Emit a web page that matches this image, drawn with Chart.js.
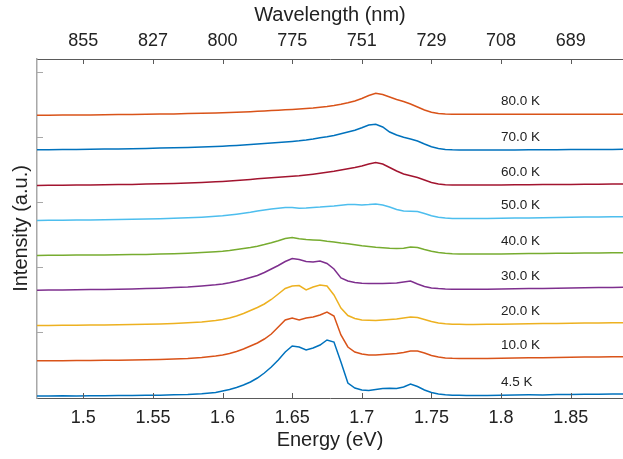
<!DOCTYPE html>
<html>
<head>
<meta charset="utf-8">
<script src="https://cdn.jsdelivr.net/npm/chart.js@4.4.1/dist/chart.umd.min.js"></script>
<style>
  html, body { margin: 0; padding: 0; background: #fff; }
  #wrap { width: 623px; height: 459px; }
</style>
</head>
<body>
<div id="wrap"><canvas id="plChart" width="623" height="459"></canvas></div>
<script>
// Photon energy grid (eV), finer across the emission band
var energy = [1.465, 1.475, 1.485, 1.495, 1.505, 1.515, 1.525, 1.535, 1.545, 1.555, 1.565, 1.575, 1.585, 1.595,
  1.600, 1.605, 1.610, 1.615, 1.620, 1.625, 1.630, 1.635, 1.640, 1.645, 1.650, 1.655, 1.660, 1.665, 1.670, 1.675,
  1.680, 1.685, 1.690, 1.695, 1.700, 1.705, 1.710, 1.715, 1.720, 1.725, 1.730, 1.735, 1.740, 1.745, 1.750, 1.755,
  1.760, 1.765, 1.770, 1.775, 1.780,
  1.790, 1.800, 1.810, 1.820, 1.830, 1.840, 1.850, 1.860, 1.870, 1.880, 1.890];

// PL spectra, stacked (a.u.)
var pl4_5K = [2, 2, 2.2, 2, 2.3, 2.2, 2.5, 2.4, 2.7, 2.8, 3.2, 3.5, 4.2, 5.5,
  7, 8.5, 10.5, 13, 16, 20, 25, 31, 38, 46, 52, 51, 48, 50, 53, 58,
  56, 36, 15, 10, 8, 7.5, 8.5, 9.5, 9.8, 9.5, 11, 14, 11.5, 8, 5.5, 4,
  3.2, 2.8, 2.7, 2.5, 2.6,
  2.5, 2.8, 3, 3.2, 3.1, 3.4, 3.5, 3.7, 3.8, 4, 4];
var pl10K = [37.2, 37.3, 37.3, 37.5, 37.5, 37.7, 37.8, 38, 38.2, 38.5, 39, 39.5, 40.5, 42,
  43, 44.5, 46.5, 49, 52, 55, 59, 64, 71, 78, 80, 78, 80, 81, 83, 86,
  82, 63, 51, 46, 44, 43, 43, 43.5, 44, 44.5, 45.5, 47, 47, 45, 42.5, 41,
  40, 39.7, 39.6, 39.5, 39.6,
  39.6, 39.8, 40, 40.2, 40.3, 40.5, 40.7, 40.9, 41, 41.2, 41.3];
var pl20K = [72.5, 72.6, 72.7, 72.8, 73, 73, 73.2, 73.5, 73.7, 74, 74.5, 75.2, 76, 77.5,
  78.5, 80, 82, 84.5, 87.5, 90.5, 94, 98.5, 104, 109.5, 112, 112.5, 108, 111, 113, 112,
  103, 90, 82.5, 79.5, 78, 77.7, 77.5, 78, 78.5, 79, 80, 81, 80.5, 78.5, 76.5, 75,
  74.2, 73.8, 73.7, 73.6, 73.6,
  73.7, 73.8, 74, 74.2, 74.4, 74.6, 74.8, 75, 75.1, 75.2, 75.3];
var pl30K = [107.8, 108, 108, 108.2, 108.4, 108.5, 108.8, 109, 109.4, 109.8, 110.4, 111, 112, 113.2,
  114, 115.2, 116.7, 118.5, 120.5, 122.5, 125.5, 129, 132.5, 136.5, 139.5, 138.5, 136.5, 136, 137, 134.5,
  129, 120, 117, 115.5, 114.7, 114.5, 114.5, 114.5, 114.7, 115, 116, 117, 114, 111.5, 110, 109.4,
  109, 108.8, 108.7, 108.7, 108.7,
  108.8, 109, 109.2, 109.4, 109.6, 109.8, 110, 110.2, 110.4, 110.5, 110.7];
var pl40K = [142.6, 142.7, 142.8, 142.9, 143, 143.1, 143.2, 143.4, 143.6, 143.9, 144.3, 144.8, 145.4, 146.3,
  146.8, 147.5, 148.4, 149.4, 150.5, 151.8, 153.4, 155.2, 157.2, 159.5, 160.5, 159.2, 158.4, 158, 157.7, 156.7,
  156, 155, 154.2, 153.2, 152.2, 151.4, 150.7, 150.2, 149.7, 149.4, 149.8, 151, 150.5, 148.5, 146.7, 145.4,
  144.7, 144.3, 144.1, 144, 144,
  144, 144.1, 144.2, 144.4, 144.5, 144.7, 144.8, 145, 145.1, 145.2, 145.3];
var pl50K = [177.6, 177.7, 177.8, 178, 178.1, 178.2, 178.4, 178.7, 179, 179.3, 179.7, 180.2, 180.8, 181.7,
  182.2, 183, 183.8, 184.7, 185.7, 187, 188, 189, 189.7, 190.4, 190.5, 189.8, 190, 190.6, 191, 191.6,
  192, 192.8, 193.4, 193.6, 193, 193.4, 194, 193, 191, 188.5, 187, 186.7, 186.5, 184.5, 182.2, 180.7,
  179.9, 179.6, 179.5, 179.5, 179.5,
  179.6, 179.7, 179.9, 180.1, 180.3, 180.5, 180.7, 180.9, 181, 181.2, 181.3];
var pl60K = [212.6, 212.7, 212.8, 212.9, 213, 213.2, 213.4, 213.6, 213.9, 214.2, 214.6, 215, 215.5, 216.2,
  216.6, 217, 217.5, 218, 218.6, 219.2, 219.7, 220.3, 220.8, 221.3, 221.7, 222.2, 223, 223.8, 224.7, 225.7,
  226.7, 228, 229.3, 230.5, 232, 234, 235.5, 234, 230.5, 227, 224, 222.2, 220.5, 218, 215.5, 214,
  213.3, 213, 212.9, 212.9, 212.9,
  213, 213.1, 213.2, 213.3, 213.4, 213.5, 213.6, 213.7, 213.8, 213.9, 214];
var pl70K = [248.2, 248.3, 248.4, 248.5, 248.7, 248.9, 249.1, 249.3, 249.6, 249.9, 250.2, 250.6, 251, 251.5,
  251.8, 252.2, 252.6, 253, 253.5, 254, 254.5, 255, 255.5, 256, 256.6, 257.2, 258, 259, 260.2, 261.2,
  262.5, 264.2, 266, 267.7, 270.2, 273, 273.8, 271, 266, 263, 260.7, 259, 257, 254, 251.2, 249.5,
  248.6, 248.2, 248, 248, 248,
  248, 248.1, 248.1, 248.2, 248.3, 248.3, 248.4, 248.5, 248.6, 248.6, 248.7];
var pl80K = [282.7, 282.8, 282.9, 283, 283.1, 283.2, 283.4, 283.5, 283.7, 283.9, 284.1, 284.4, 284.7, 285,
  285.2, 285.5, 285.8, 286, 286.3, 286.7, 287, 287.4, 287.8, 288.2, 288.6, 289, 289.5, 290, 290.7, 291.5,
  292.5, 293.7, 295.2, 297, 299.5, 302.5, 304.7, 303.5, 301, 298.5, 296.5, 294, 291, 288, 285.7, 284.5,
  284, 283.8, 283.7, 283.7, 283.7,
  283.7, 283.7, 283.7, 283.7, 283.7, 283.7, 283.7, 283.7, 283.7, 283.7, 283.7];

var temps = ["4.5 K", "10.0 K", "20.0 K", "30.0 K", "40.0 K", "50.0 K", "60.0 K", "70.0 K", "80.0 K"];
var spectra = [pl4_5K, pl10K, pl20K, pl30K, pl40K, pl50K, pl60K, pl70K, pl80K];
var colors = ["#0072BD", "#D95319", "#EDB120", "#7E2F8E", "#77AC30", "#4DBEEE", "#A2142F", "#0072BD", "#D95319"];

// Axis ticks
var energyTicks = [1.5, 1.55, 1.6, 1.65, 1.7, 1.75, 1.8, 1.85];
var wavelengthLabels = ["855", "827", "800", "775", "751", "729", "708", "689"];
var intensityTicks = [66, 131, 196, 261, 326];
var labelEnergy = 1.8;

var fontFamily = "'Liberation Sans', Arial, sans-serif";
var textColor = "#222";

function setTicks(values) {
  return function (scale) {
    scale.ticks = values.map(function (v) { return { value: v }; });
  };
}

// Inward tick marks and the temperature labels
var marksPlugin = {
  id: "marks",
  afterDraw: function (chart) {
    var ctx = chart.ctx;
    var area = chart.chartArea;
    var x = chart.scales.x;
    var y = chart.scales.y;
    ctx.save();
    ctx.lineWidth = 1;
    ctx.strokeStyle = "#5a5a5a";
    energyTicks.forEach(function (e) {
      var px = Math.round(x.getPixelForValue(e)) + 0.5;
      ctx.beginPath();
      ctx.moveTo(px, area.bottom);
      ctx.lineTo(px, area.bottom - 5);
      ctx.moveTo(px, area.top);
      ctx.lineTo(px, area.top + 5);
      ctx.stroke();
    });
    ctx.strokeStyle = "#a8a8a8";
    intensityTicks.forEach(function (v) {
      var py = Math.round(y.getPixelForValue(v)) + 0.5;
      ctx.beginPath();
      ctx.moveTo(area.left, py);
      ctx.lineTo(area.left + 6, py);
      ctx.stroke();
    });

    var idx = energy.indexOf(labelEnergy);
    ctx.fillStyle = textColor;
    ctx.font = "13.5px " + fontFamily;
    ctx.textAlign = "left";
    ctx.textBaseline = "middle";
    spectra.forEach(function (s, i) {
      var py = y.getPixelForValue(s[idx]) - 13;
      ctx.fillText(temps[i], x.getPixelForValue(labelEnergy), py);
    });
    ctx.restore();
  }
};

var datasets = spectra.map(function (s, i) {
  return {
    label: temps[i],
    data: energy.map(function (e, j) { return { x: e, y: s[j] }; }),
    borderColor: colors[i],
    borderWidth: 1.5,
    pointRadius: 0,
    tension: 0,
    fill: false
  };
});

var ctx = document.getElementById("plChart").getContext("2d");
var plChart = new Chart(ctx, {
  type: "line",
  data: { datasets: datasets },
  options: {
    responsive: false,
    animation: false,
    layout: { padding: 0 },
    plugins: { legend: { display: false }, tooltip: { enabled: false } },
    scales: {
      x: {
        type: "linear",
        position: "bottom",
        min: 1.4667,
        max: 1.8876,
        afterBuildTicks: setTicks(energyTicks),
        afterFit: function (scale) { scale.height = 61; },
        grid: { drawOnChartArea: false, drawTicks: false },
        border: { color: "#5a5a5a", width: 1 },
        ticks: {
          autoSkip: false,
          maxRotation: 0,
          padding: 9,
          color: textColor,
          font: { family: fontFamily, size: 18 },
          callback: function (v) { return String(v); }
        },
        title: {
          display: true,
          text: "Energy (eV)",
          color: textColor,
          font: { family: fontFamily, size: 20 },
          padding: { top: 0, bottom: 7 }
        }
      },
      x2: {
        type: "linear",
        position: "top",
        min: 1.4667,
        max: 1.8876,
        afterBuildTicks: setTicks(energyTicks),
        afterFit: function (scale) { scale.height = 59; },
        grid: { drawOnChartArea: false, drawTicks: false },
        border: { color: "#5a5a5a", width: 1 },
        ticks: {
          autoSkip: false,
          maxRotation: 0,
          padding: 7,
          color: textColor,
          font: { family: fontFamily, size: 18 },
          callback: function (v, i) { return wavelengthLabels[i]; }
        },
        title: {
          display: true,
          text: "Wavelength (nm)",
          color: textColor,
          font: { family: fontFamily, size: 20 },
          padding: { top: 3, bottom: 0 }
        }
      },
      y: {
        type: "linear",
        min: 0,
        max: 339,
        afterBuildTicks: setTicks(intensityTicks),
        afterFit: function (scale) { scale.width = 37; },
        grid: { drawOnChartArea: false, drawTicks: false },
        border: { color: "#a8a8a8", width: 1.5 },
        ticks: { display: false },
        title: {
          display: true,
          text: "Intensity (a.u.)",
          color: textColor,
          font: { family: fontFamily, size: 20 },
          padding: { top: 9, bottom: 0 }
        }
      }
    }
  },
  plugins: [marksPlugin]
});
</script>
</body>
</html>
